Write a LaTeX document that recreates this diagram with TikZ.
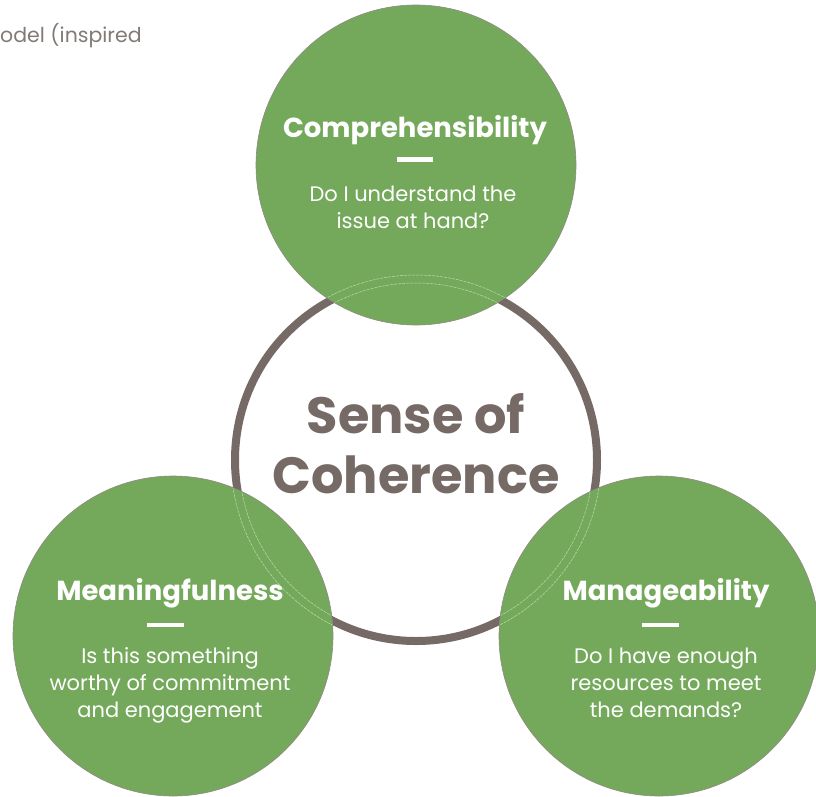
\documentclass[tikz,border=0pt]{standalone}
\usepackage{fontspec}
\setmainfont{Poppins}
\begin{document}
\begin{tikzpicture}[x=1pt,y=-1pt]
  \definecolor{socGreen}{RGB}{116,169,91}
  \definecolor{socGrey}{RGB}{117,106,102}
  \definecolor{socTitle}{RGB}{130,122,118}

  \tikzset{
    ring/.style={circle,draw=socGrey,line width=8pt,minimum size=362pt,inner sep=0pt},
    bubble/.style={circle,fill=socGreen,draw=socGrey!80,line width=0.6pt,minimum size=320pt,inner sep=0pt},
    heading/.style={anchor=base,text=white,font=\fontsize{27.5}{30}\selectfont\bfseries},
    question/.style={anchor=base,text=white,align=center,font=\fontsize{21}{27}\selectfont},
    bigtext/.style={anchor=base,text=socGrey,font=\fontsize{51}{60}\selectfont\bfseries},
    rule/.style={white,line width=4.5pt},
    ghost/.style={white,opacity=0.55,line width=0.5pt,dash pattern=on 3pt off 1pt}
  }

  \useasboundingbox (0,0) rectangle (816,796);

  \node[anchor=base west,inner sep=0pt,text=socTitle,font=\fontsize{20.5}{24}\selectfont] (title) at (0,42) {odel (inspired};

  \node[ring] (soc) at (416,460) {};

  \node[bubble] (compr) at (416,165) {};
  \node[bubble] (mean) at (173,636) {};
  \node[bubble] (manag) at (659,636) {};

  % ring edges seen through the circles
  \foreach \c in {compr,mean,manag}{
    \begin{scope}
      \clip (\c) circle (159.5);
      \draw[ghost] (soc) circle (185);
      \draw[ghost] (soc) circle (177);
    \end{scope}
  }

  \node[bigtext] (sense) at (416,433) {Sense of};
  \node[bigtext] (coher) at (416,493) {Coherence};

  \node[heading] (comprH) at (415,137) {Comprehensibility};
  \coordinate (comprL) at (397,159.5);
  \coordinate (comprR) at (433,159.5);
  \draw[rule] (comprL) -- (comprR);
  \node[question] (comprQ) at (413,228) {Do I understand the\\issue at hand?};

  \node[heading] (meanH) at (170,600) {Meaningfulness};
  \coordinate (meanL) at (147,625);
  \coordinate (meanR) at (184,625);
  \draw[rule] (meanL) -- (meanR);
  \node[question] (meanQ) at (170,717) {Is this something\\worthy of commitment\\and engagement};

  \node[heading] (managH) at (666,600) {Manageability};
  \coordinate (managL) at (642,625);
  \coordinate (managR) at (679,625);
  \draw[rule] (managL) -- (managR);
  \node[question] (managQ) at (666,717) {Do I have enough\\resources to meet\\the demands?};
\end{tikzpicture}
\end{document}
